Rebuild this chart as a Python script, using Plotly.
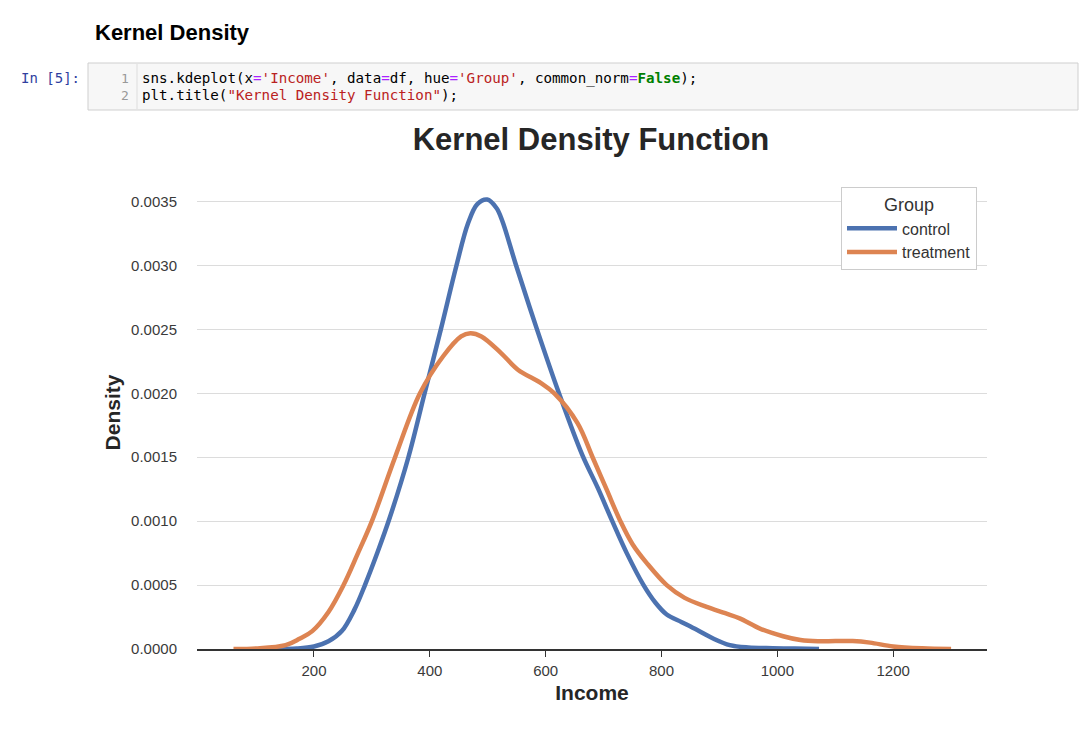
import plotly.graph_objects as go

# ---------------- data ----------------
groups = ["control", "treatment"]

control_income = [136, 170, 200, 225, 248, 270, 288, 310, 331, 363, 391, 419, 446, 466,
                  482, 499, 515, 525, 549, 585, 623, 663, 690, 715, 740, 769, 790,
                  809, 835, 861, 890, 918, 950, 992, 1030, 1072]
control_density = [0.0, 0.000004, 0.00002, 0.00006, 0.00014, 0.00031, 0.0005, 0.00076,
                   0.00103, 0.0015, 0.0020, 0.0025, 0.0030, 0.00333, 0.00348, 0.003516,
                   0.00345, 0.00335, 0.0030, 0.0025, 0.0020, 0.00152, 0.00126, 0.0010,
                   0.00075, 0.0005, 0.00036, 0.00027, 0.00021, 0.00015, 0.00008, 0.00003,
                   0.000012, 0.000006, 0.000003, 0.0]

treatment_income = [61, 100, 151, 175, 197, 225, 251, 275, 300, 340, 383, 423, 454, 470, 489,
                    523, 552, 592, 615, 655, 681, 705, 729, 750, 775, 809, 840, 878, 910, 935,
                    970, 1010, 1040, 1070, 1100, 1130, 1160, 1200, 1250, 1300]
treatment_density = [0.0, 0.000004, 0.00003, 0.00008, 0.00014, 0.00029, 0.0005, 0.00074, 0.0010,
                     0.0015, 0.0020, 0.00229, 0.002445, 0.00247, 0.002445, 0.002315, 0.002185,
                     0.00208, 0.0020, 0.001767, 0.0015, 0.00125, 0.0010, 0.00082, 0.00067,
                     0.0005, 0.00040, 0.00033, 0.00028, 0.00024, 0.00016, 0.0001, 0.00007,
                     0.00006, 0.000062, 0.000062, 0.00005, 0.00002, 0.000005, 0.0]

y_ticks = [0.0, 0.0005, 0.0010, 0.0015, 0.0020, 0.0025, 0.0030, 0.0035]
x_ticks = [200, 400, 600, 800, 1000, 1200]

colors = {"control": "#4C72B0", "treatment": "#DD8452"}

# ---------------- figure ----------------
W, H = 1080, 730
L, R, T, B = 197, 987, 176, 649  # plot area pixel box


def px(x):
    return (x - L) / (R - L)


def py(y):
    return (B - y) / (B - T)


fig = go.Figure()
series = {"control": (control_income, control_density),
          "treatment": (treatment_income, treatment_density)}
for g in groups:
    xs, ys = series[g]
    fig.add_trace(go.Scatter(
        x=xs, y=ys, mode="lines", name=g,
        line=dict(color=colors[g], width=4.5, shape="spline", smoothing=1.0),
        cliponaxis=True,
    ))

sans = "Liberation Sans, Arial, Helvetica, sans-serif"
mono = "DejaVu Sans Mono, Menlo, monospace"

fig.update_layout(
    width=W, height=H, autosize=False,
    margin=dict(l=L, r=W - R, t=T, b=H - B, pad=0),
    paper_bgcolor="white", plot_bgcolor="white",
    font=dict(family=sans, color="#333333"),
    showlegend=True,
    legend=dict(
        title=dict(text="Group", font=dict(size=18, color="#333333"), side="top center"),
        font=dict(size=16, color="#333333"),
        x=px(977), y=py(187), xanchor="right", yanchor="top",
        bgcolor="white", bordercolor="#cccccc", borderwidth=1,
        itemwidth=50,
    ),
    title=dict(text="<b>Kernel Density Function</b>", xref="container", x=591 / W,
               xanchor="center", yref="container", y=1 - 139 / H, yanchor="middle",
               font=dict(size=31, color="#262626", family=sans)),
)

fig.update_xaxes(
    range=[-2, 1362], tickvals=x_ticks, ticktext=[str(v) for v in x_ticks],
    showgrid=False, zeroline=False,
    showline=True, linecolor="#333333", linewidth=1.5,
    ticks="outside", ticklen=6, tickwidth=1.2, tickcolor="#333333",
    tickfont=dict(size=15, color="#3a3a3a"), ticklabelstandoff=1,
    title=dict(text="<b>Income</b>", font=dict(size=21, color="#262626"), standoff=8),
)
fig.update_yaxes(
    range=[0, 0.0037], tickvals=y_ticks, ticktext=[f"{v:.4f}" for v in y_ticks],
    showgrid=True, gridcolor="#dcdcdc", gridwidth=1.2,
    zeroline=False, showline=False, ticks="",
    tickfont=dict(size=15, color="#3a3a3a"), ticklabelstandoff=19,
    title=dict(text="<b>Density</b>", font=dict(size=21, color="#262626"), standoff=4),
)

# ---------------- notebook chrome ----------------
shapes = [
    dict(type="rect", xref="paper", yref="paper",
         x0=px(88), x1=px(1078), y0=py(63), y1=py(110),
         fillcolor="#f7f7f7", line=dict(color="#cfcfcf", width=1), layer="below"),
    dict(type="line", xref="paper", yref="paper",
         x0=px(137), x1=px(137), y0=py(64), y1=py(109),
         line=dict(color="#dddddd", width=1)),
]
fig.update_layout(shapes=shapes)

P = '<span style="color:#AA22FF">=</span>'


def s(t):
    return f'<span style="color:#BA2121">{t}</span>'


code1 = (f"sns.kdeplot(x{P}{s(chr(39) + 'Income' + chr(39))}, data{P}df, hue{P}"
         f"{s(chr(39) + 'Group' + chr(39))}, common_norm{P}"
         f'<b><span style="color:#008000">False</span></b>);')
code2 = f'plt.title({s(chr(34) + "Kernel Density Function" + chr(34))});'

annots = [
    dict(text="<b>Kernel Density</b>", x=px(93), y=py(33), xanchor="left", yanchor="middle",
         font=dict(family=sans, size=22, color="#000000")),
    dict(text="In [5]:", x=px(82), y=py(78), xanchor="right", yanchor="middle",
         font=dict(family=mono, size=14, color="#303F9F")),
    dict(text="1", x=px(131), y=py(78), xanchor="right", yanchor="middle",
         font=dict(family=mono, size=13, color="#999999")),
    dict(text="2", x=px(131), y=py(95), xanchor="right", yanchor="middle",
         font=dict(family=mono, size=13, color="#999999")),
    dict(text=code1, x=px(140), y=py(78), xanchor="left", yanchor="middle",
         font=dict(family=mono, size=14.2, color="#000000")),
    dict(text=code2, x=px(140), y=py(95), xanchor="left", yanchor="middle",
         font=dict(family=mono, size=14.2, color="#000000")),
]
for a in annots:
    a.update(xref="paper", yref="paper", showarrow=False)
fig.update_layout(annotations=annots)

fig.write_html("out.html", config={"displayModeBar": False},
               post_script="document.body.style.margin='0px';")
